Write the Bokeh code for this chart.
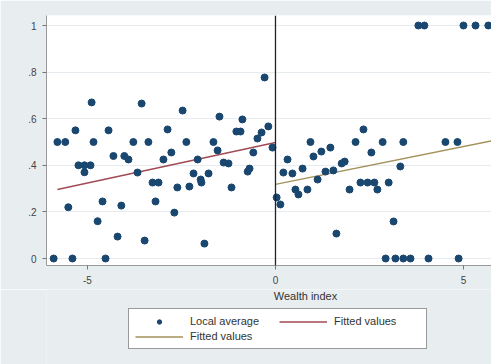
from bokeh.plotting import figure
from bokeh.layouts import column
from bokeh.models import (Range1d, FixedTicker, Span, Label, Legend, LegendItem)
from bokeh.embed import file_html
from bokeh.resources import INLINE

# Local averages (left of cutoff)
left_x = [-5.90, -5.40, -4.52, -5.80, -5.59, -5.51, -5.32, -5.24, -5.08, -4.92,
          -5.08, -4.89, -4.84, -4.73, -4.60, -4.44, -4.31, -4.20, -4.10, -4.02,
          -3.91, -3.78, -3.67, -3.56, -3.48, -3.38, -3.27, -3.11, -3.19, -2.98,
          -2.87, -2.77, -2.69, -2.61, -2.47, -2.37, -2.29, -2.18, -2.07, -1.99,
          -1.97, -1.89, -1.78, -1.65, -1.54, -1.49, -1.38, -1.25, -1.17, -1.04,
          -0.93, -0.88, -0.74, -0.69, -0.59, -0.48, -0.37, -0.29, -0.19, -0.08]
left_y = [0.0, 0.0, 0.0, 0.50, 0.50, 0.22, 0.55, 0.40, 0.40, 0.40,
          0.37, 0.67, 0.50, 0.16, 0.245, 0.55, 0.44, 0.094, 0.227, 0.44,
          0.425, 0.50, 0.369, 0.665, 0.077, 0.50, 0.326, 0.326, 0.245, 0.425,
          0.554, 0.455, 0.197, 0.305, 0.635, 0.50, 0.309, 0.365, 0.425, 0.339,
          0.326, 0.064, 0.365, 0.50, 0.464, 0.609, 0.412, 0.408, 0.305, 0.545,
          0.545, 0.597, 0.373, 0.386, 0.455, 0.515, 0.541, 0.777, 0.567, 0.476]
# Local averages (right of cutoff)
right_x = [0.03, 0.13, 0.21, 0.32, 0.45, 0.53, 0.61, 0.72, 0.85, 0.93,
           1.01, 1.12, 1.22, 1.33, 1.46, 1.54, 1.62, 1.76, 1.84, 1.97,
           2.13, 2.26, 2.34, 2.45, 2.55, 2.63, 2.71, 2.85, 2.93, 3.01,
           3.14, 3.19, 3.32, 3.40, 3.40, 3.59, 3.80, 3.96, 4.07, 4.52,
           4.84, 4.87, 5.00, 5.32, 5.66]
right_y = [0.262, 0.232, 0.369, 0.425, 0.365, 0.296, 0.275, 0.386, 0.296, 0.50,
           0.438, 0.339, 0.459, 0.373, 0.476, 0.378, 0.107, 0.408, 0.416, 0.296,
           0.50, 0.326, 0.554, 0.326, 0.455, 0.326, 0.296, 0.50, 0.0, 0.326,
           0.159, 0.0, 0.395, 0.50, 0.0, 0.0, 1.0, 1.0, 0.0, 0.50,
           0.50, 0.0, 1.0, 1.0, 1.0]
# Fitted values
fit_left_x = [-5.80, 0.0]
fit_left_y = [0.296, 0.498]
fit_right_x = [0.0, 5.90]
fit_right_y = [0.318, 0.510]

y_ticks = [0, 0.2, 0.4, 0.6, 0.8, 1.0]
y_tick_labels = ["0", ".2", ".4", ".6", ".8", "1"]
x_ticks = [-5, 0, 5]
x_tick_labels = ["-5", "0", "5"]

FONT = "Liberation Sans"
BG = "#e8eef0"
NAVY = "#1a476f"
RED = "#a04a55"
OLIVE = "#a3915a"

# ---------------- main plot ----------------
p = figure(width=491, height=289, output_backend="svg",
           toolbar_location=None,
           x_range=Range1d(-6.09, 5.745), y_range=Range1d(-0.030, 1.043),
           min_border_left=46, min_border_right=0, min_border_top=15,
           min_border_bottom=24)
p.border_fill_color = BG
p.background_fill_color = "white"
p.outline_line_color = None

p.xgrid.grid_line_color = None
p.ygrid.ticker = FixedTicker(ticks=y_ticks)
p.ygrid.grid_line_color = "#e6ecef"
p.ygrid.grid_line_width = 1

p.yaxis.ticker = FixedTicker(ticks=y_ticks)
p.yaxis.major_label_overrides = {t: l for t, l in zip(y_ticks, y_tick_labels)}
p.xaxis.ticker = FixedTicker(ticks=x_ticks)
p.xaxis.major_label_overrides = {t: l for t, l in zip(x_ticks, x_tick_labels)}
for ax in (p.xaxis[0], p.yaxis[0]):
    ax.axis_line_color = "#9a9a9a"
    ax.major_tick_line_color = "#777777"
    ax.major_tick_out = 4
    ax.major_tick_in = 0
    ax.minor_tick_line_color = None
    ax.major_label_text_font = FONT
    ax.major_label_text_font_size = "10px"
    ax.major_label_text_color = "#444444"
p.yaxis.major_label_orientation = "horizontal"
p.yaxis.major_label_standoff = 6
p.xaxis.major_label_standoff = 6

p.add_layout(Span(location=0, dimension="height", line_color="#222222",
                  line_width=1.3))

p.line(fit_left_x, fit_left_y, line_color=RED, line_width=1.4)
p.line(fit_right_x, fit_right_y, line_color=OLIVE, line_width=1.4)
p.scatter(left_x + right_x, left_y + right_y, size=7,
          fill_color=NAVY, line_color=NAVY, marker="circle")

# ---------------- axis title + legend strip ----------------
# (the column layout aligns this strip's frame with the main frame, x = 46)
p2 = figure(width=491, height=75, output_backend="svg", toolbar_location=None,
            x_range=Range1d(10, 11), y_range=Range1d(10, 11),
            x_axis_type=None, y_axis_type=None,
            min_border_left=0, min_border_right=0, min_border_top=0,
            min_border_bottom=0)
p2.border_fill_color = BG
p2.background_fill_color = BG
p2.outline_line_color = None
p2.grid.grid_line_color = None

p2.add_layout(Label(x=259, y=69, x_units="screen", y_units="screen",
                    text="Wealth index", text_align="center",
                    text_baseline="middle", text_font=FONT,
                    text_font_size="11px", text_color="#333333"))

# legend key glyphs: same series, but outside this strip's ranges (hidden)
k_pts = p2.scatter(left_x, left_y, size=7, fill_color=NAVY, line_color=NAVY,
                   marker="circle")
k_red = p2.line(fit_left_x, fit_left_y, line_color=RED, line_width=1.4)
k_olive = p2.line(fit_right_x, fit_right_y, line_color=OLIVE, line_width=1.4)

# legend fills column by column: col 1 = items 0,1 ; col 2 = item 2
legend = Legend(items=[
    LegendItem(label="Local average", renderers=[k_pts]),
    LegendItem(label="Fitted values", renderers=[k_olive]),
    LegendItem(label="Fitted values", renderers=[k_red]),
], location=(82, 15), ncols=2)
legend.label_text_font = FONT
legend.label_text_font_size = "11px"
legend.label_text_color = "#333333"
legend.glyph_width = 48
legend.glyph_height = 11
legend.label_height = 11
legend.label_width = 86
legend.label_standoff = 7
legend.spacing = 3
legend.padding = 6
legend.margin = 0
legend.border_line_color = "#333333"
legend.border_line_width = 1
legend.background_fill_color = "white"
legend.background_fill_alpha = 1
p2.add_layout(legend, "center")

layout = column(p, p2, spacing=0)
open("out.html", "w").write(file_html(layout, INLINE))
